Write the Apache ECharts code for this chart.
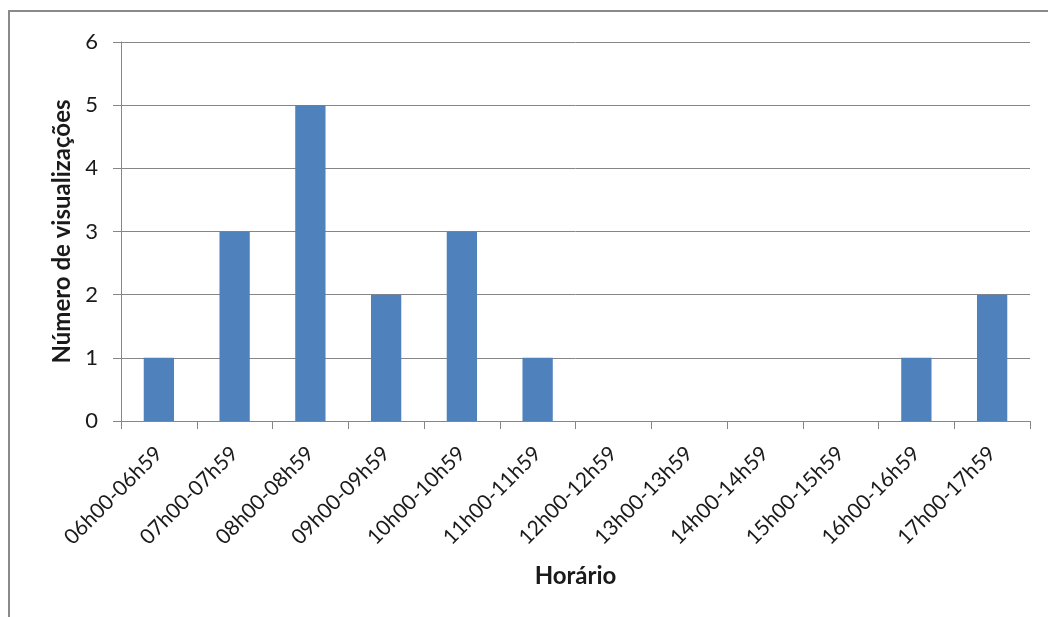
<!DOCTYPE html>
<html>
<head>
<meta charset="utf-8">
<script src="https://cdn.jsdelivr.net/npm/echarts@6/dist/echarts.min.js"></script>
<style>
  html, body { margin: 0; padding: 0; background: #fff; }
  #chart { width: 1048px; height: 617px; }
</style>
</head>
<body>
<div id="chart"></div>
<script>
// Views per hourly slot
var categories = ['06h00-06h59', '07h00-07h59', '08h00-08h59', '09h00-09h59', '10h00-10h59', '11h00-11h59',
                  '12h00-12h59', '13h00-13h59', '14h00-14h59', '15h00-15h59', '16h00-16h59', '17h00-17h59'];
var views = [1, 3, 5, 2, 3, 1, 0, 0, 0, 0, 1, 2];
var yTicks = [0, 1, 2, 3, 4, 5, 6];

var font = 'Lato, "Open Sans", sans-serif';
var axisGray = '#868686';

var chart = echarts.init(document.getElementById('chart'), null, { renderer: 'canvas' });
chart.setOption({
  animation: false,
  grid: { left: 121, right: 18, top: 42, bottom: 196, containLabel: false },
  graphic: [{
    type: 'polyline',
    shape: { points: [[9, 617], [9, 11], [1048, 11]] },
    style: { stroke: '#8a8a8a', lineWidth: 2, fill: null }
  }],
  xAxis: {
    type: 'category',
    data: categories,
    name: 'Horário',
    nameLocation: 'middle',
    nameGap: 143,
    nameTextStyle: { fontFamily: font, fontSize: 24, fontWeight: 'bold', color: '#1a1a1a' },
    axisLine: { lineStyle: { color: axisGray, width: 1 } },
    axisTick: { show: true, length: 8, alignWithLabel: false, lineStyle: { color: axisGray } },
    axisLabel: { interval: 0, rotate: 45, margin: 29, fontFamily: font, fontSize: 21, color: '#1a1a1a' },
    splitLine: { show: false }
  },
  yAxis: {
    type: 'value',
    min: yTicks[0],
    max: yTicks[yTicks.length - 1],
    interval: 1,
    name: 'Número de visualizações',
    nameLocation: 'middle',
    nameGap: 47,
    nameTextStyle: { fontFamily: font, fontSize: 24, fontWeight: 'bold', color: '#1a1a1a' },
    axisLine: { show: true, lineStyle: { color: axisGray, width: 1 } },
    axisTick: { show: true, length: 8, lineStyle: { color: axisGray } },
    axisLabel: { margin: 23, fontFamily: font, fontSize: 22, color: '#1a1a1a' },
    splitLine: { show: true, lineStyle: { color: axisGray, width: 1 } }
  },
  series: [{
    type: 'bar',
    data: views,
    barWidth: '40%',
    itemStyle: { color: '#4F81BD' }
  }]
});
</script>
</body>
</html>
